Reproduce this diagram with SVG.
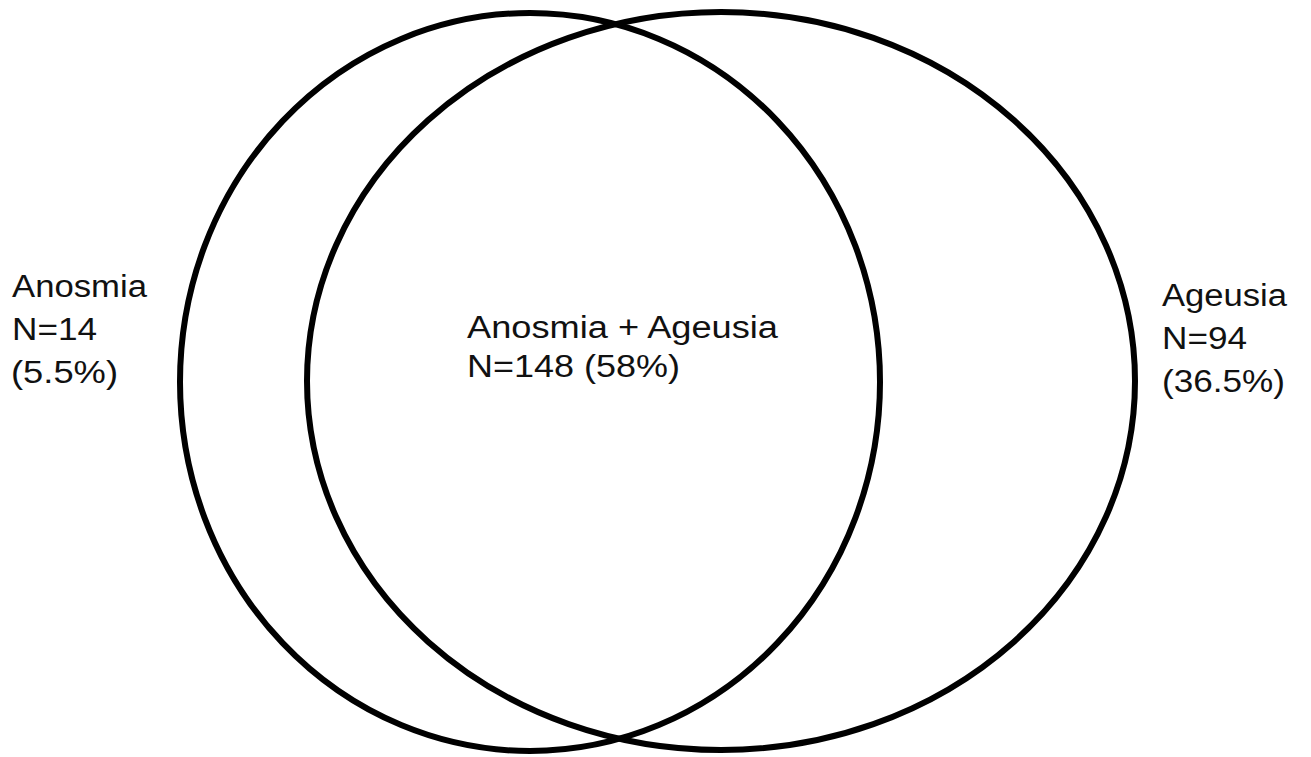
<svg xmlns="http://www.w3.org/2000/svg" width="1311" height="757" viewBox="0 0 1311 757">
<style>
.c{fill:none;stroke:#000;stroke-width:6}
.t{font-family:"Liberation Sans",Arial,sans-serif;font-size:31px;fill:#111}
</style>
<rect width="1311" height="757" fill="#fff"/>
<g id="anosmia">
<ellipse class="c" cx="530" cy="382" rx="350" ry="369"/>
<text class="t" x="12" y="297" textLength="135" lengthAdjust="spacingAndGlyphs">Anosmia</text>
<text class="t" x="12" y="340" textLength="85" lengthAdjust="spacingAndGlyphs">N=14</text>
<text class="t" x="11" y="383" textLength="107" lengthAdjust="spacingAndGlyphs">(5.5%)</text>
</g>
<g id="ageusia">
<ellipse class="c" cx="721" cy="381" rx="414" ry="369"/>
<text class="t" x="1162" y="306" textLength="125" lengthAdjust="spacingAndGlyphs">Ageusia</text>
<text class="t" x="1162" y="349" textLength="85" lengthAdjust="spacingAndGlyphs">N=94</text>
<text class="t" x="1162" y="392" textLength="123" lengthAdjust="spacingAndGlyphs">(36.5%)</text>
</g>
<g id="both">
<text class="t" x="467" y="338" textLength="311" lengthAdjust="spacingAndGlyphs">Anosmia + Ageusia</text>
<text class="t" x="467" y="377" textLength="213" lengthAdjust="spacingAndGlyphs">N=148 (58%)</text>
</g>
<g id="connectors"/>
</svg>
